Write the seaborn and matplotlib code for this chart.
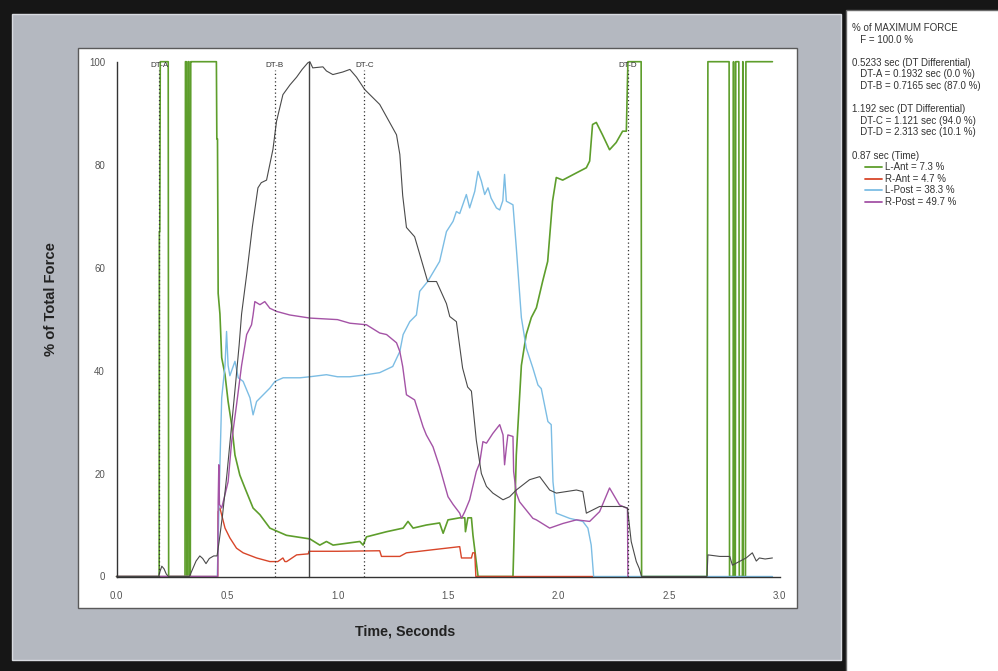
import matplotlib
matplotlib.use("Agg")
import matplotlib.pyplot as plt
from matplotlib.patches import Rectangle
from matplotlib.lines import Line2D
import seaborn as sns

# --- data (time in s, % of total force) ---
total_t = [0, 0.19, 0.197, 0.205, 0.215, 0.225, 0.235, 0.33, 0.34, 0.36, 0.377, 0.39, 0.405,
           0.42, 0.44, 0.455, 0.465, 0.48, 0.50, 0.52, 0.54, 0.555, 0.566, 0.59, 0.615, 0.640,
           0.655, 0.679, 0.708, 0.724, 0.753, 0.785, 0.815, 0.84, 0.866, 0.875, 0.888, 0.934,
           0.950, 0.979, 1.024, 1.056, 1.086, 1.123, 1.191, 1.267, 1.282, 1.295, 1.312, 1.349,
           1.408, 1.448, 1.493, 1.508, 1.538, 1.566, 1.589, 1.606, 1.628, 1.651, 1.674, 1.703,
           1.749, 1.779, 1.809, 1.869, 1.915, 1.960, 1.990, 2.081, 2.110, 2.126, 2.186, 2.291,
           2.312, 2.329, 2.352, 2.365, 2.376, 2.672, 2.676, 2.730, 2.775, 2.787, 2.80, 2.849,
           2.877, 2.895, 2.909, 2.935, 2.968]
total_v = [0, 0, 1, 2, 1.5, 0.5, 0, 0, 1, 3, 4, 3.5, 2.5,
           3.5, 4, 4, 7, 12, 20, 29, 38, 45, 51, 59, 68, 75.5,
           76.5, 77, 83, 88.4, 93.6, 95.5, 97, 98.5, 99.8, 100, 98.8, 99,
           98.2, 97.5, 98, 98.5, 97, 94.6, 91.7, 85.8, 82, 74, 67.8, 66,
           57.3, 57.3, 53, 50.5, 49.5, 40.5, 36.8, 36, 26.5, 20, 17.5, 16.2,
           14.9, 15.5, 16.8, 18.8, 19.4, 16.8, 16.2, 16.8, 16.5, 12.3, 13.6, 13.6,
           13.3, 6.8, 2.9, 1.6, 0, 0, 4.2, 3.9, 3.9, 2.2, 2.5, 3.6,
           4.6, 3.0, 3.6, 3.4, 3.6]

l_ant_t = [0, 0.193, 0.194, 0.196, 0.198, 0.234, 0.236, 0.310, 0.312, 0.316, 0.318, 0.322,
           0.324, 0.328, 0.330, 0.334, 0.336, 0.341, 0.452, 0.454, 0.457, 0.460, 0.468, 0.476,
           0.491, 0.505, 0.521, 0.536, 0.558, 0.581, 0.618, 0.649, 0.694, 0.769, 0.875, 0.92,
           0.950, 0.980, 1.101, 1.116, 1.131, 1.222, 1.297, 1.319, 1.342, 1.402, 1.462, 1.478,
           1.500, 1.553, 1.576, 1.579, 1.590, 1.606, 1.613, 1.636, 1.794, 1.809, 1.832, 1.854,
           1.877, 1.900, 1.928, 1.951, 1.973, 1.990, 2.019, 2.081, 2.126, 2.141, 2.154, 2.171,
           2.199, 2.231, 2.261, 2.290, 2.307, 2.314, 2.374, 2.376, 2.672, 2.676, 2.772, 2.774,
           2.790, 2.792, 2.794, 2.800, 2.802, 2.816, 2.818, 2.832, 2.834, 2.836, 2.846, 2.848,
           2.968]
l_ant_v = [0, 0, 67, 67, 100, 100, 0, 0, 100, 100, 0, 0,
           100, 100, 0, 0, 100, 100, 100, 85, 85, 55, 51, 42.5,
           39.2, 34, 29.5, 23.6, 19.7, 17.2, 13.3, 12, 9.4, 8, 7.3, 6.1,
           6.8, 6.1, 6.8, 6.1, 7.7, 8.7, 9.4, 10.7, 9.4, 10, 10.4, 8.4,
           11, 11.4, 11.4, 8.7, 11.4, 11.4, 8, 0, 0, 23.6, 41, 47,
           50.3, 52.2, 57.3, 61.2, 72.9, 77.5, 77, 78.4, 79.4, 80.7, 87.8, 88.2,
           85.8, 82.9, 84.3, 86.5, 86.5, 100, 100, 0, 0, 100, 100, 0,
           0, 100, 0, 0, 100, 100, 0, 0, 100, 0, 0, 100,
           100]

r_ant_t = [0, 0.458, 0.460, 0.468, 0.491, 0.513, 0.543, 0.573, 0.634, 0.694, 0.73, 0.753,
           0.762, 0.77, 0.815, 0.868, 0.871, 1.0, 1.191, 1.199, 1.282, 1.312, 1.431, 1.553,
           1.561, 1.606, 1.612, 1.621, 1.626, 2.159]
r_ant_v = [0, 0, 12.6, 13.3, 9.4, 7.5, 5.5, 4.6, 3.6, 2.9, 2.9, 3.6,
           2.9, 2.9, 4.2, 4.4, 4.9, 4.9, 5, 3.9, 3.9, 4.6, 5.2, 5.8,
           3.6, 3.6, 4.6, 4.6, 0, 0]

l_post_t = [0, 0.456, 0.460, 0.468, 0.476, 0.491, 0.498, 0.505, 0.513, 0.536, 0.551, 0.573,
            0.604, 0.618, 0.634, 0.664, 0.694, 0.717, 0.754, 0.83, 0.875, 0.95, 1.0, 1.056,
            1.131, 1.191, 1.250, 1.282, 1.297, 1.327, 1.357, 1.372, 1.408, 1.462, 1.493, 1.523,
            1.538, 1.553, 1.583, 1.598, 1.621, 1.636, 1.651, 1.666, 1.681, 1.695, 1.719, 1.734,
            1.748, 1.756, 1.764, 1.794, 1.809, 1.832, 1.854, 1.884, 1.907, 1.922, 1.952, 1.967,
            1.975, 1.990, 2.050, 2.110, 2.133, 2.148, 2.159, 2.968]
l_post_v = [0, 0, 6.8, 21.7, 34.7, 41, 47.6, 41, 39, 41.8, 38.6, 37.9,
            34.7, 31.4, 34, 35.3, 36.6, 37.9, 38.6, 38.6, 38.8, 39.2, 38.8, 38.8,
            39.2, 39.6, 40.8, 43.7, 47, 49.5, 50.8, 55.4, 57.3, 61.2, 67, 69,
            70.9, 70.5, 74.2, 71.6, 74.8, 78.7, 76.8, 74.2, 75.5, 73.5, 71.6, 71.2,
            73, 78.1, 72.9, 72.2, 63.9, 50.3, 44.4, 40.5, 37.2, 36.5, 30.1, 29.5,
            18.4, 12.3, 11.3, 10.7, 9.4, 6.1, 0, 0]

r_post_t = [0, 0.458, 0.460, 0.463, 0.466, 0.476, 0.505, 0.521, 0.543, 0.566, 0.589, 0.611,
            0.618, 0.626, 0.649, 0.671, 0.694, 0.724, 0.784, 0.875, 1.0, 1.056, 1.131, 1.191,
            1.222, 1.267, 1.282, 1.295, 1.312, 1.349, 1.387, 1.402, 1.432, 1.462, 1.500, 1.523,
            1.553, 1.561, 1.576, 1.598, 1.628, 1.643, 1.658, 1.674, 1.703, 1.734, 1.749, 1.756,
            1.764, 1.771, 1.794, 1.797, 1.809, 1.824, 1.854, 1.884, 1.900, 1.960, 2.020, 2.081,
            2.141, 2.186, 2.231, 2.276, 2.307, 2.312, 2.314, 2.316]
r_post_v = [0, 0, 14.5, 21.7, 14, 13.3, 18.4, 26.2, 33.3, 41, 47, 48.9,
            50.8, 53.4, 52.8, 53.4, 52.1, 51.5, 50.8, 50.2, 49.9, 49.2, 48.9, 47.3,
            47, 45.4, 43.7, 40.8, 35.3, 34.3, 29.1, 27.5, 25.2, 21.3, 15.5, 14,
            12.3, 11.3, 12.6, 14.9, 20.4, 22, 26.2, 25.9, 27.8, 29.5, 27.5, 21.7,
            25, 27.5, 27.2, 20.4, 16.2, 14.5, 12.9, 11.3, 11, 9.4, 10.3, 11,
            10.7, 12.6, 17.2, 13.9, 13.3, 13.3, 0, 0]

dt_times = [0.1932, 0.7165, 1.121, 2.313]
dt_labels = ["DT-A", "DT-B", "DT-C", "DT-D"]
cursor_time = 0.87

x_ticks = [0.0, 0.5, 1.0, 1.5, 2.0, 2.5, 3.0]
y_ticks = [0, 20, 40, 60, 80, 100]

legend_lines = ["% of MAXIMUM FORCE", "   F = 100.0 %", "",
                "0.5233 sec (DT Differential)", "   DT-A = 0.1932 sec (0.0 %)",
                "   DT-B = 0.7165 sec (87.0 %)", "",
                "1.192 sec (DT Differential)", "   DT-C = 1.121 sec (94.0 %)",
                "   DT-D = 2.313 sec (10.1 %)", "", "0.87 sec (Time)"]
series_names = ["L-Ant", "R-Ant", "L-Post", "R-Post"]
series_at_cursor = [7.3, 4.7, 38.3, 49.7]

# --- style ---
sns.set_style("white")
plt.rcParams['font.family'] = ['Liberation Sans', 'DejaVu Sans']

GREEN = '#5e9e2c'
RED = '#d8462a'
BLUE = '#7cbde4'
PURPLE = '#a453a6'
GREY = '#4a4a4a'

W, H = 998, 671
fig = plt.figure(figsize=(W / 100, H / 100), dpi=100, facecolor='#161616')


def box(x0, y0, x1, y1):
    # pixel box (top-left origin) -> figure fraction
    return (x0 / W, 1 - y1 / H), (x1 - x0) / W, (y1 - y0) / H


def add_rect(x0, y0, x1, y1, **kw):
    xy, w, h = box(x0, y0, x1, y1)
    fig.add_artist(Rectangle(xy, w, h, transform=fig.transFigure, zorder=-5, **kw))


# grey panel, white plot frame, legend panel
add_rect(12, 14, 841, 660, facecolor='#b4b8c0', edgecolor='#d8dbe0', linewidth=1)
add_rect(78, 48, 797, 608, facecolor='white', edgecolor='#5a5a5a', linewidth=1)
add_rect(846, 10, 999, 672, facecolor='white', edgecolor='#6a6a6a', linewidth=1)

(ax_x, ax_y), ax_w, ax_h = box(116.5, 61.7, 779.5, 576.5)
ax = fig.add_axes([ax_x, ax_y, ax_w, ax_h])
ax.patch.set_alpha(0)

series = [(l_ant_t, l_ant_v, GREEN, 1.2),
          (r_ant_t, r_ant_v, RED, 1.0),
          (l_post_t, l_post_v, BLUE, 1.0),
          (r_post_t, r_post_v, PURPLE, 1.0),
          (total_t, total_v, GREY, 0.8)]
for t, v, c, lw in series:
    sns.lineplot(x=t, y=v, ax=ax, color=c, linewidth=lw, estimator=None, sort=False)
    ax.lines[-1].set_clip_on(False)

# DT markers and time cursor
for t, lab in zip(dt_times, dt_labels):
    ax.plot([t, t], [0, 98.3], color='#333333', linewidth=0.9, linestyle=(0, (1, 2)),
            clip_on=False)
    ax.text(t, 99.2, lab, ha='center', va='center', fontsize=5.8, color='#333333')
ax.plot([cursor_time, cursor_time], [0, 100], color='#444444', linewidth=1, clip_on=False)

ax.set_xlim(0, 3.0)
ax.set_ylim(0, 100)
for s in ['top', 'right']:
    ax.spines[s].set_visible(False)
for s in ['left', 'bottom']:
    ax.spines[s].set_color('#333333')
    ax.spines[s].set_linewidth(1)

ax.set_xticks(x_ticks)
ax.set_xticklabels([f"{x:.1f}" for x in x_ticks])
ax.set_yticks(y_ticks)
ax.set_yticklabels([str(y) for y in y_ticks])
ax.tick_params(direction='inout', length=12.5, width=1, color='#333333',
               labelsize=7, labelcolor='#555555')
ax.tick_params(axis='x', pad=4)
ax.tick_params(axis='y', pad=2)
ax.xaxis.get_major_ticks()[0].tick1line.set_visible(False)
ax.yaxis.get_major_ticks()[0].tick1line.set_visible(False)
ax.set_xlabel("")
ax.set_ylabel("")

fig.text(51 / W, 1 - 299 / H, "% of Total Force", rotation=90, fontsize=10.6,
         fontweight='bold', ha='center', va='center', color='#222222')
fig.text(405 / W, 1 - 632 / H, "Time, Seconds", fontsize=10.3,
         fontweight='bold', ha='center', va='center', color='#222222')

# legend panel text
y_px = 28
for line in legend_lines:
    if line:
        fig.text(852 / W, 1 - y_px / H, line, fontsize=7, color='#333333',
                 ha='left', va='center')
    y_px += 11.6
colors = [GREEN, RED, BLUE, PURPLE]
for name, val, c in zip(series_names, series_at_cursor, colors):
    fig.add_artist(Line2D([865 / W, 882 / W], [1 - y_px / H, 1 - y_px / H],
                          transform=fig.transFigure, color=c, linewidth=1.3))
    fig.text(885 / W, 1 - y_px / H, f"{name} = {val} %", fontsize=7, color='#333333',
             ha='left', va='center')
    y_px += 11.6

fig.savefig("out.png", dpi=100, facecolor=fig.get_facecolor())
